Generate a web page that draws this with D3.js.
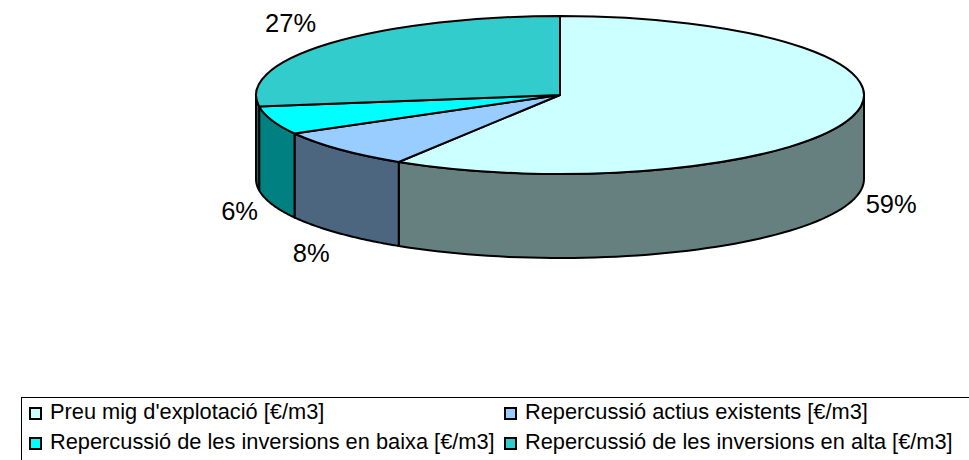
<!DOCTYPE html>
<html>
<head>
<meta charset="utf-8">
<script src="https://cdn.jsdelivr.net/npm/d3@7"></script>
<style>
  html, body { margin: 0; padding: 0; background: #fff; overflow: hidden; }
  text { font-family: "Liberation Sans", Arial, sans-serif; fill: #000; }
</style>
</head>
<body>
<div id="chart"></div>
<script>
// the data
var categories = [
  "Preu mig d'explotació [€/m3]",
  "Repercussió actius existents [€/m3]",
  "Repercussió de les inversions en baixa [€/m3]",
  "Repercussió de les inversions en alta [€/m3]"
];
var values = [58.9, 8, 5.8, 27.3];
var topColors = ["#CCFFFF", "#99CCFF", "#00FFFF", "#33CCCC"];
var wallColors = ["#668080", "#4D6680", "#008080", "#1A6666"];

var width = 969, height = 460;

// pie geometry
var cx = 560, cy = 95, rx = 304, ry = 79, depth = 84;

// offset of each percent label from the rim point in the middle of its slice
var labelOffset = [[39, 96], [-28.5, 113], [-32.5, 100], [-39.5, -11]];

var svg = d3.select("#chart")
  .append("svg")
  .attr("width", width)
  .attr("height", height);

var pie = d3.pie().sort(null).value(function(d) { return d; });
var slices = pie(values);

function rimX(a) { return cx + rx * Math.sin(a); }
function rimY(a) { return cy - ry * Math.cos(a); }

// side walls, only the front half of the rim can be seen
var wallLine = d3.line()
  .x(function(d) { return rimX(d[0]); })
  .y(function(d) { return rimY(d[0]) + d[1]; });

function wallPath(s) {
  var a0 = Math.max(s.startAngle, Math.PI / 2);
  var a1 = Math.min(s.endAngle, Math.PI * 1.5);
  if (a1 <= a0) return null;
  var angles = d3.range(0, 61).map(function(i) { return a0 + (a1 - a0) * i / 60; });
  var pts = angles.map(function(a) { return [a, 0]; })
    .concat(angles.slice().reverse().map(function(a) { return [a, depth]; }));
  return wallLine(pts) + "Z";
}

svg.append("g").selectAll("path")
  .data(slices)
  .enter()
  .append("path")
  .attr("d", wallPath)
  .attr("fill", function(d, i) { return wallColors[i]; })
  .attr("stroke", "#000")
  .attr("stroke-width", 2)
  .attr("stroke-linejoin", "round");

// top face is a normal arc squashed into an ellipse
var arc = d3.arc().innerRadius(0).outerRadius(rx);

svg.append("g")
  .attr("transform", "translate(" + cx + "," + cy + ") scale(1," + (ry / rx) + ")")
  .selectAll("path")
  .data(slices)
  .enter()
  .append("path")
  .attr("d", arc)
  .attr("fill", function(d, i) { return topColors[i]; })
  .attr("stroke", "#000")
  .attr("stroke-width", 2)
  .attr("stroke-linejoin", "round")
  .attr("vector-effect", "non-scaling-stroke");

// percent labels
svg.append("g").selectAll("text")
  .data(slices)
  .enter()
  .append("text")
  .attr("x", function(d, i) { return rimX((d.startAngle + d.endAngle) / 2) + labelOffset[i][0]; })
  .attr("y", function(d, i) { return rimY((d.startAngle + d.endAngle) / 2) + labelOffset[i][1]; })
  .attr("text-anchor", "middle")
  .attr("font-size", 25.5)
  .text(function(d) { return Math.round(d.value) + "%"; });

// legend box runs off the right and bottom of the picture
svg.append("rect")
  .attr("x", 21.5)
  .attr("y", 397.5)
  .attr("width", 1000)
  .attr("height", 100)
  .attr("fill", "none")
  .attr("stroke", "#000")
  .attr("stroke-width", 1);

var legendX = d3.scaleOrdinal().domain([0, 1]).range([30, 505]);
var legendY = d3.scaleOrdinal().domain([0, 1]).range([408, 438]);

var legend = svg.append("g").selectAll("g")
  .data(categories)
  .enter()
  .append("g")
  .attr("transform", function(d, i) {
    return "translate(" + legendX(i % 2) + "," + legendY(Math.floor(i / 2)) + ")";
  });

legend.append("rect")
  .attr("width", 11)
  .attr("height", 11)
  .attr("fill", function(d, i) { return topColors[i]; })
  .attr("stroke", "#000")
  .attr("stroke-width", 2);

legend.append("text")
  .attr("x", 20)
  .attr("y", 11)
  .attr("font-size", 21.8)
  .text(function(d) { return d; });
</script>
</body>
</html>
